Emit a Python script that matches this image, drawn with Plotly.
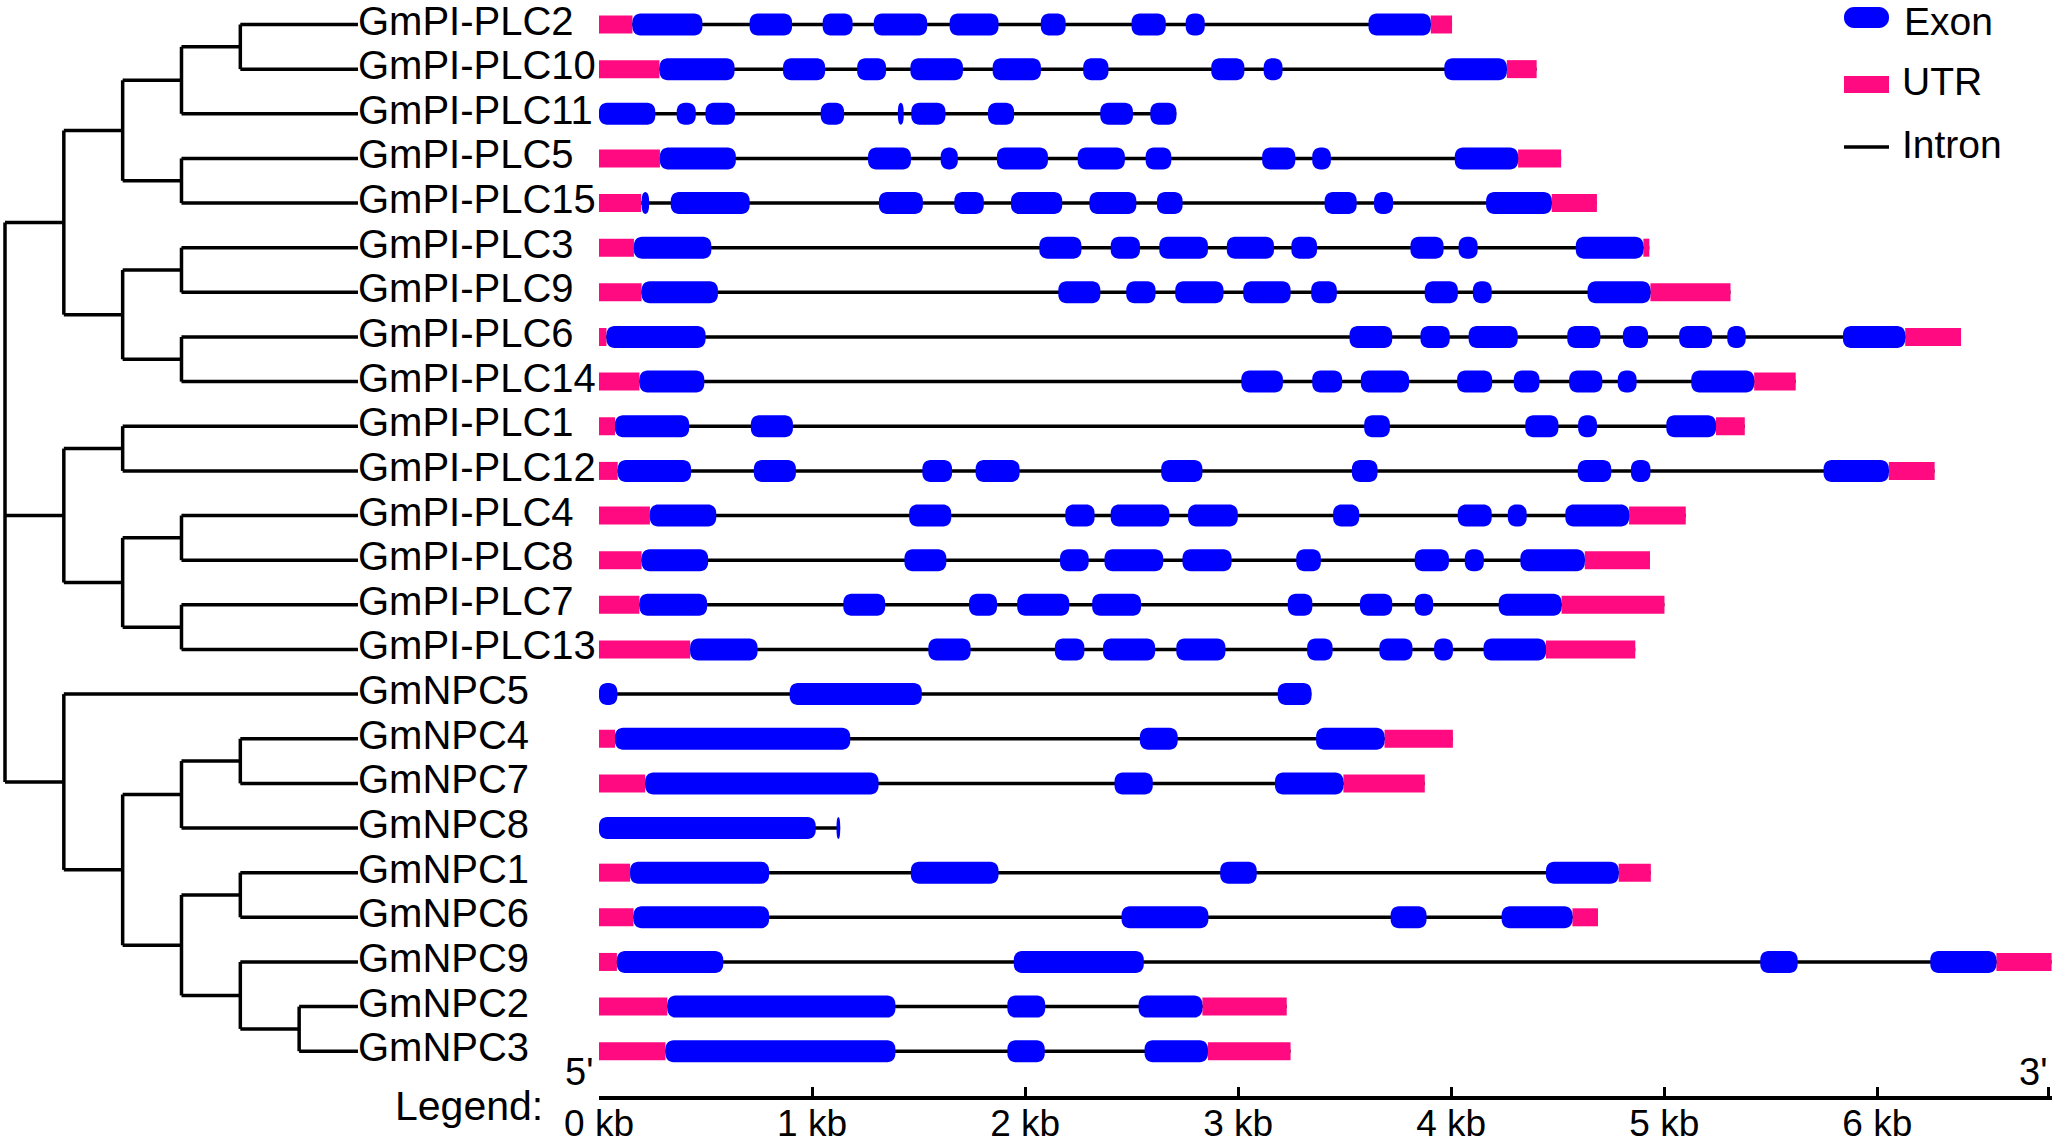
import plotly.graph_objects as go

W, H = 2055, 1145

# rows, top to bottom
genes = ["GmPI-PLC2", "GmPI-PLC10", "GmPI-PLC11", "GmPI-PLC5", "GmPI-PLC15",
         "GmPI-PLC3", "GmPI-PLC9", "GmPI-PLC6", "GmPI-PLC14", "GmPI-PLC1",
         "GmPI-PLC12", "GmPI-PLC4", "GmPI-PLC8", "GmPI-PLC7", "GmPI-PLC13",
         "GmNPC5", "GmNPC4", "GmNPC7", "GmNPC8", "GmNPC1", "GmNPC6",
         "GmNPC9", "GmNPC2", "GmNPC3"]

# cladogram (nested lists, leaves are gene names)
tree = [
    [[[["GmPI-PLC2", "GmPI-PLC10"], "GmPI-PLC11"], ["GmPI-PLC5", "GmPI-PLC15"]],
     [["GmPI-PLC3", "GmPI-PLC9"], ["GmPI-PLC6", "GmPI-PLC14"]]],
    [["GmPI-PLC1", "GmPI-PLC12"],
     [["GmPI-PLC4", "GmPI-PLC8"], ["GmPI-PLC7", "GmPI-PLC13"]]],
    ["GmNPC5",
     [[["GmNPC4", "GmNPC7"], "GmNPC8"],
      [["GmNPC1", "GmNPC6"], ["GmNPC9", ["GmNPC2", "GmNPC3"]]]]],
]

# UTR segments in kb, one list per gene
utrs = [
    [[0, 0.157], [3.904, 4.004]],
    [[0, 0.284], [4.261, 4.401]],
    [],
    [[0, 0.286], [4.314, 4.516]],
    [[0, 0.198], [4.472, 4.684]],
    [[0, 0.164], [4.902, 4.93]],
    [[0, 0.2], [4.935, 5.311]],
    [[0, 0.035], [6.131, 6.393]],
    [[0, 0.19], [5.422, 5.617]],
    [[0, 0.075], [5.243, 5.378]],
    [[0, 0.088], [6.054, 6.269]],
    [[0, 0.239], [4.835, 5.101]],
    [[0, 0.2], [4.627, 4.933]],
    [[0, 0.19], [4.518, 5.001]],
    [[0, 0.428], [4.445, 4.864]],
    [],
    [[0, 0.075], [3.687, 4.008]],
    [[0, 0.217], [3.494, 3.876]],
    [],
    [[0, 0.146], [4.786, 4.937]],
    [[0, 0.162], [4.569, 4.689]],
    [[0, 0.084], [6.559, 6.818]],
    [[0, 0.321], [2.832, 3.228]],
    [[0, 0.312], [2.858, 3.246]],
]

# exon segments in kb, one list per gene
exons = [
    [[0.157, 0.485], [0.707, 0.906], [1.05, 1.19], [1.29, 1.54], [1.646, 1.875],
     [2.074, 2.19], [2.5, 2.66], [2.754, 2.843], [3.612, 3.904]],
    [[0.284, 0.636], [0.864, 1.061], [1.212, 1.347], [1.462, 1.708], [1.848, 2.074],
     [2.273, 2.391], [2.874, 3.029], [3.12, 3.208], [3.968, 4.261]],
    [[0, 0.264], [0.365, 0.454], [0.5, 0.638], [1.041, 1.15], [1.403, 1.43],
     [1.466, 1.626], [1.826, 1.948], [2.353, 2.506], [2.588, 2.71]],
    [[0.286, 0.642], [1.263, 1.464], [1.604, 1.684], [1.868, 2.107], [2.247, 2.468],
     [2.566, 2.686], [3.113, 3.268], [3.348, 3.435], [4.017, 4.314]],
    [[0.2, 0.235], [0.337, 0.707], [1.314, 1.52], [1.668, 1.806], [1.934, 2.174],
     [2.302, 2.522], [2.619, 2.739], [3.406, 3.556], [3.638, 3.727], [4.164, 4.472]],
    [[0.164, 0.527], [2.067, 2.264], [2.402, 2.539], [2.63, 2.858], [2.947, 3.168],
     [3.25, 3.37], [3.809, 3.964], [4.035, 4.124], [4.585, 4.902]],
    [[0.2, 0.558], [2.156, 2.353], [2.475, 2.612], [2.705, 2.931], [3.024, 3.246],
     [3.343, 3.463], [3.876, 4.031], [4.102, 4.19], [4.64, 4.935]],
    [[0.035, 0.5], [3.523, 3.723], [3.856, 3.993], [4.082, 4.312], [4.545, 4.7],
     [4.806, 4.924], [5.07, 5.225], [5.296, 5.382], [5.839, 6.131]],
    [[0.19, 0.494], [3.015, 3.21], [3.348, 3.488], [3.576, 3.802], [4.028, 4.192],
     [4.294, 4.414], [4.554, 4.709], [4.782, 4.87], [5.127, 5.422]],
    [[0.075, 0.423], [0.713, 0.91], [3.592, 3.712], [4.348, 4.503], [4.596, 4.684],
     [5.01, 5.243]],
    [[0.088, 0.432], [0.727, 0.924], [1.518, 1.657], [1.768, 1.974], [2.639, 2.832],
     [3.534, 3.654], [4.594, 4.751], [4.844, 4.935], [5.748, 6.054]],
    [[0.239, 0.55], [1.456, 1.653], [2.189, 2.326], [2.402, 2.677], [2.765, 2.998],
     [3.446, 3.568], [4.031, 4.19], [4.266, 4.354], [4.536, 4.835]],
    [[0.2, 0.512], [1.434, 1.63], [2.164, 2.298], [2.373, 2.648], [2.739, 2.969],
     [3.273, 3.388], [3.829, 3.989], [4.064, 4.153], [4.325, 4.627]],
    [[0.19, 0.507], [1.147, 1.343], [1.737, 1.868], [1.963, 2.207], [2.315, 2.544],
     [3.233, 3.348], [3.572, 3.723], [3.829, 3.915], [4.223, 4.518]],
    [[0.428, 0.744], [1.546, 1.744], [2.14, 2.278], [2.366, 2.61], [2.71, 2.94],
     [3.324, 3.443], [3.663, 3.818], [3.92, 4.008], [4.152, 4.445]],
    [[0, 0.086], [0.895, 1.515], [3.186, 3.344]],
    [[0.075, 1.179], [2.539, 2.716], [3.366, 3.687]],
    [[0.217, 1.312], [2.42, 2.599], [3.173, 3.494]],
    [[0, 1.017], [1.115, 1.132]],
    [[0.146, 0.798], [1.464, 1.875], [2.916, 3.087], [4.445, 4.786]],
    [[0.162, 0.798], [2.453, 2.86], [3.716, 3.884], [4.237, 4.569]],
    [[0.084, 0.583], [1.947, 2.557], [5.451, 5.626], [6.249, 6.559]],
    [[0.321, 1.391], [1.917, 2.094], [2.533, 2.832]],
    [[0.312, 1.391], [1.917, 2.092], [2.561, 2.858]],
]

kb_ticks = [0, 1, 2, 3, 4, 5, 6]
kb_labels = ["0 kb", "1 kb", "2 kb", "3 kb", "4 kb", "5 kb", "6 kb"]
scale_end = 6.805

EXON = "#0000FF"
UTR = "#FF0A80"
FONT = "Arial, Liberation Sans, sans-serif"

# pixel geometry -> axis setup
x0_px, x1_px, kb_max = 599, 2052, 6.82
px_per_kb = (x1_px - x0_px) / kb_max
row0_px, row_px, axis_px = 24.5, 44.64, 1096
y_top = -row0_px / row_px
y_bot = (axis_px - row0_px) / row_px
tree_x0_px, tree_step_px = 5, 58.83
leaf_level = 6


def rounded(xa, xb, ya, yb, rx, ry):
    rx = min(rx, (xb - xa) / 2)
    ry = min(ry, (yb - ya) / 2)
    k = 0.5523
    p = [f"M{xa + rx:.5f},{ya:.5f}", f"L{xb - rx:.5f},{ya:.5f}",
         f"C{xb - rx + k * rx:.5f},{ya:.5f} {xb:.5f},{ya + ry - k * ry:.5f} {xb:.5f},{ya + ry:.5f}",
         f"L{xb:.5f},{yb - ry:.5f}",
         f"C{xb:.5f},{yb - ry + k * ry:.5f} {xb - rx + k * rx:.5f},{yb:.5f} {xb - rx:.5f},{yb:.5f}",
         f"L{xa + rx:.5f},{yb:.5f}",
         f"C{xa + rx - k * rx:.5f},{yb:.5f} {xa:.5f},{yb - ry + k * ry:.5f} {xa:.5f},{yb - ry:.5f}",
         f"L{xa:.5f},{ya + ry:.5f}",
         f"C{xa:.5f},{ya + ry - k * ry:.5f} {xa + rx - k * rx:.5f},{ya:.5f} {xa + rx:.5f},{ya:.5f}", "Z"]
    return " ".join(p)


fig = go.Figure()
shapes = []

# introns: line across each gene
ix, iy = [], []
for i, g in enumerate(genes):
    segs = utrs[i] + exons[i]
    ix += [min(s[0] for s in segs), max(s[1] for s in segs), None]
    iy += [i, i, None]
fig.add_trace(go.Scatter(x=ix, y=iy, mode="lines", line=dict(color="black", width=3.5),
                         hoverinfo="skip", showlegend=False))

exon_h = 11 / row_px
utr_h = 9 / row_px
rx_kb, ry_row = 8 / px_per_kb, 8 / row_px
for i, g in enumerate(genes):
    for a, b in utrs[i]:
        shapes.append(dict(type="rect", xref="x", yref="y", x0=a, x1=b, y0=i - utr_h, y1=i + utr_h,
                           fillcolor=UTR, line=dict(width=0), layer="above"))
    for a, b in exons[i]:
        shapes.append(dict(type="path", xref="x", yref="y",
                           path=rounded(a, b, i - exon_h, i + exon_h, rx_kb, ry_row),
                           fillcolor=EXON, line=dict(width=0), layer="above"))

# tree
row_of = {g: i for i, g in enumerate(genes)}
tx, ty = [], []


def walk(node, depth):
    if isinstance(node, str):
        return leaf_level, row_of[node]
    kids = [walk(c, depth + 1) for c in node]
    for cx, cy in kids:
        tx.extend([depth, cx, None])
        ty.extend([cy, cy, None])
    lo, hi = kids[0][1], kids[-1][1]
    tx.extend([depth, depth, None])
    ty.extend([lo, hi, None])
    return depth, (lo + hi) / 2


walk(tree, 0)
fig.add_trace(go.Scatter(x=tx, y=ty, xaxis="x2", yaxis="y", mode="lines",
                         line=dict(color="black", width=3.5), hoverinfo="skip", showlegend=False))
fig.add_trace(go.Scatter(x=[leaf_level] * len(genes), y=list(range(len(genes))), xaxis="x2", yaxis="y",
                         mode="text", text=genes, textposition="middle right",
                         textfont=dict(family=FONT, size=40, color="black"),
                         cliponaxis=False, hoverinfo="skip", showlegend=False))


# legend (top right), pixel positions -> paper
def px(x):
    return x / W


def py(y):
    return 1 - y / H


shapes.append(dict(type="path", xref="paper", yref="paper",
                   path=rounded(px(1844), px(1889), py(28), py(7), 10 / W, 10 / H),
                   fillcolor=EXON, line=dict(width=0)))
shapes.append(dict(type="rect", xref="paper", yref="paper", x0=px(1844), x1=px(1889),
                   y0=py(93), y1=py(76), fillcolor=UTR, line=dict(width=0)))
shapes.append(dict(type="line", xref="paper", yref="paper", x0=px(1844), x1=px(1889),
                   y0=py(147), y1=py(147), line=dict(color="black", width=3.5)))

annotations = []
for label, xx, yy in [("Exon", 1902, 22), ("UTR", 1900, 82), ("Intron", 1900, 145)]:
    annotations.append(dict(text=label, x=px(xx), y=py(yy), xref="paper", yref="paper",
                            xanchor="left", yanchor="middle", showarrow=False,
                            font=dict(family=FONT, size=39, color="black")))
annotations.append(dict(text="5'", x=px(579), y=py(1072), xref="paper", yref="paper",
                        xanchor="center", yanchor="middle", showarrow=False,
                        font=dict(family=FONT, size=38, color="black")))
annotations.append(dict(text="3'", x=px(2033), y=py(1072), xref="paper", yref="paper",
                        xanchor="center", yanchor="middle", showarrow=False,
                        font=dict(family=FONT, size=38, color="black")))
annotations.append(dict(text="Legend:", x=px(545), y=py(1106), xref="paper", yref="paper",
                        xanchor="right", yanchor="middle", showarrow=False,
                        font=dict(family=FONT, size=41, color="black")))

fig.update_layout(
    width=W, height=H,
    margin=dict(l=0, r=0, t=0, b=0, pad=0, autoexpand=False),
    paper_bgcolor="white", plot_bgcolor="white",
    showlegend=False,
    shapes=shapes, annotations=annotations,
    xaxis=dict(domain=[x0_px / W, x1_px / W], range=[0, kb_max], anchor="y", automargin=False,
               showgrid=False, zeroline=False, showline=True, linecolor="black", linewidth=4,
               ticks="inside", ticklen=9, tickwidth=3, tickcolor="black",
               tickvals=kb_ticks + [scale_end], ticktext=kb_labels + [""],
               ticklabelstandoff=-8,
               tickfont=dict(family=FONT, size=37, color="black"), fixedrange=True),
    xaxis2=dict(domain=[0, x0_px / W],
                range=[-tree_x0_px / tree_step_px, (x0_px - tree_x0_px) / tree_step_px],
                anchor="y", visible=False, automargin=False, fixedrange=True),
    yaxis=dict(domain=[1 - axis_px / H, 1], range=[y_bot, y_top], visible=False,
               automargin=False, fixedrange=True),
)

# drop the page's default body margin so the figure sits at the window corner
fig.write_html("out.html", config={"displayModeBar": False},
               post_script="document.body.style.margin='0';")
